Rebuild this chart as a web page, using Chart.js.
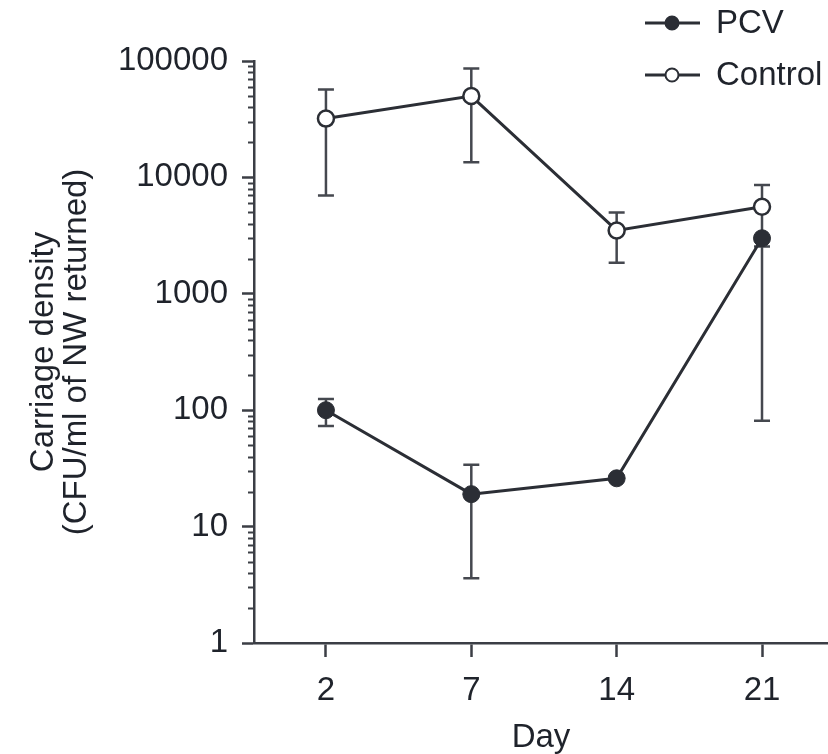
<!DOCTYPE html>
<html lang="en">
<head>
    <meta charset="UTF-8">
    <title>Carriage density</title>
    <style>
        html, body { margin: 0; padding: 0; background: #fff; }
        #chartBox { width: 828px; height: 754px; }
    </style>
</head>
<body>
    <div id="chartBox">
        <canvas id="myChart" width="828" height="754"></canvas>
    </div>

    <script src="https://cdn.jsdelivr.net/npm/chart.js@4.4.0/dist/chart.umd.min.js"></script>
    <script>
        // days sampled, and carriage density (CFU/ml of NW returned) with error range
        var days = ['2', '7', '14', '21'];
        var pcvMean = [100, 19, 26, 3000];
        var pcvLow = [73, 3.6, 26, 81];
        var pcvHigh = [125, 34, 26, 3000];
        var controlMean = [32000, 50000, 3500, 5600];
        var controlLow = [7000, 13500, 1850, 2550];
        var controlHigh = [57000, 86000, 5000, 8600];
        var yTicks = [1, 10, 100, 1000, 10000, 100000];

        var ink = '#2b2e35';
        var axisInk = '#3b3e45';
        var textInk = '#1f232b';
        var fontFamily = '"Liberation Sans", Arial, Helvetica, sans-serif';
        Chart.defaults.font.family = fontFamily;

        function points(values) {
            return values.map(function (v, i) { return { x: i, y: v }; });
        }

        // vertical error bars with caps, drawn under the markers
        var errorBars = {
            id: 'errorBars',
            beforeDatasetsDraw: function (chart) {
                var ctx = chart.ctx;
                var xs = chart.scales.x, ys = chart.scales.y;
                var ranges = [[pcvLow, pcvHigh], [controlLow, controlHigh]];
                ctx.save();
                ctx.strokeStyle = '#45484f';
                ctx.lineWidth = 2.5;
                ranges.forEach(function (r) {
                    for (var i = 0; i < days.length; i++) {
                        if (r[0][i] === r[1][i]) continue;
                        var x = xs.getPixelForValue(i);
                        var y1 = ys.getPixelForValue(r[0][i]);
                        var y2 = ys.getPixelForValue(r[1][i]);
                        ctx.beginPath();
                        ctx.moveTo(x, y1); ctx.lineTo(x, y2);
                        ctx.moveTo(x - 8, y1); ctx.lineTo(x + 8, y1);
                        ctx.moveTo(x - 8, y2); ctx.lineTo(x + 8, y2);
                        ctx.stroke();
                    }
                });
                ctx.restore();
            }
        };

        // short minor ticks on the log axis
        var minorTicks = {
            id: 'minorTicks',
            afterDraw: function (chart) {
                var ctx = chart.ctx;
                var ys = chart.scales.y;
                var left = chart.chartArea.left;
                ctx.save();
                ctx.strokeStyle = axisInk;
                ctx.lineWidth = 2;
                for (var d = 1; d < 100000; d *= 10) {
                    for (var k = 2; k <= 9; k++) {
                        var y = Math.round(ys.getPixelForValue(k * d)) + 0.5;
                        ctx.beginPath();
                        ctx.moveTo(left - 6, y);
                        ctx.lineTo(left, y);
                        ctx.stroke();
                    }
                }
                ctx.restore();
            }
        };

        // legend with line + marker samples in the top right corner
        var lineLegend = {
            id: 'lineLegend',
            afterDraw: function (chart) {
                var ctx = chart.ctx;
                var rows = [
                    { label: 'PCV', y: 23, fill: ink },
                    { label: 'Control', y: 75, fill: '#ffffff' }
                ];
                ctx.save();
                rows.forEach(function (row) {
                    ctx.strokeStyle = ink;
                    ctx.lineWidth = 3;
                    ctx.beginPath();
                    ctx.moveTo(645, row.y);
                    ctx.lineTo(700, row.y);
                    ctx.stroke();
                    ctx.beginPath();
                    ctx.arc(672, row.y, 6.5, 0, Math.PI * 2);
                    ctx.fillStyle = row.fill;
                    ctx.fill();
                    ctx.lineWidth = 2;
                    ctx.stroke();
                    ctx.fillStyle = textInk;
                    ctx.font = '33px ' + fontFamily;
                    ctx.textBaseline = 'middle';
                    ctx.fillText(row.label, 716, row.y + 1);
                });
                ctx.restore();
            }
        };

        var ctx = document.getElementById('myChart').getContext('2d');
        var myChart = new Chart(ctx, {
            type: 'line',
            data: {
                datasets: [
                    {
                        label: 'PCV',
                        data: points(pcvMean),
                        borderColor: ink,
                        borderWidth: 3,
                        pointRadius: 8.5,
                        pointBackgroundColor: ink,
                        pointBorderColor: ink,
                        pointBorderWidth: 1,
                        tension: 0
                    },
                    {
                        label: 'Control',
                        data: points(controlMean),
                        borderColor: ink,
                        borderWidth: 3,
                        pointRadius: 8,
                        pointBackgroundColor: '#ffffff',
                        pointBorderColor: ink,
                        pointBorderWidth: 2.5,
                        tension: 0
                    }
                ]
            },
            options: {
                responsive: false,
                animation: false,
                layout: { autoPadding: false, padding: { top: 61, right: 0, left: 0, bottom: 0 } },
                plugins: {
                    legend: { display: false },
                    tooltip: { enabled: false }
                },
                scales: {
                    x: {
                        type: 'linear',
                        min: -0.495,
                        max: 3.454,
                        afterBuildTicks: function (scale) {
                            scale.ticks = days.map(function (d, i) { return { value: i }; });
                        },
                        afterFit: function (scale) { scale.height = 111; },
                        ticks: {
                            callback: function (v) { return days[v]; },
                            color: textInk,
                            font: { size: 33 },
                            padding: 14
                        },
                        grid: {
                            drawOnChartArea: false,
                            drawTicks: true,
                            tickLength: 14,
                            tickColor: axisInk,
                            tickWidth: 2.5
                        },
                        border: { display: true, color: axisInk, width: 2.5 },
                        title: {
                            display: true,
                            text: 'Day',
                            color: textInk,
                            font: { size: 33, lineHeight: 1 },
                            padding: { top: 0, bottom: 0 }
                        }
                    },
                    y: {
                        type: 'logarithmic',
                        min: 1,
                        max: 100000,
                        afterBuildTicks: function (scale) {
                            scale.ticks = yTicks.map(function (v) { return { value: v, major: true }; });
                        },
                        afterFit: function (scale) { scale.width = 254; },
                        ticks: {
                            callback: function (v) { return String(v); },
                            color: textInk,
                            font: { size: 33 },
                            padding: 14
                        },
                        grid: {
                            drawOnChartArea: false,
                            drawTicks: true,
                            tickLength: 12,
                            tickColor: axisInk,
                            tickWidth: 2.5
                        },
                        border: { display: true, color: axisInk, width: 2.5 },
                        title: {
                            display: true,
                            text: ['Carriage density', '(CFU/ml of NW returned)'],
                            color: textInk,
                            font: { size: 33, lineHeight: 1 },
                            padding: { top: 27, bottom: 0 }
                        }
                    }
                }
            },
            plugins: [errorBars, minorTicks, lineLegend]
        });
    </script>
</body>
</html>
